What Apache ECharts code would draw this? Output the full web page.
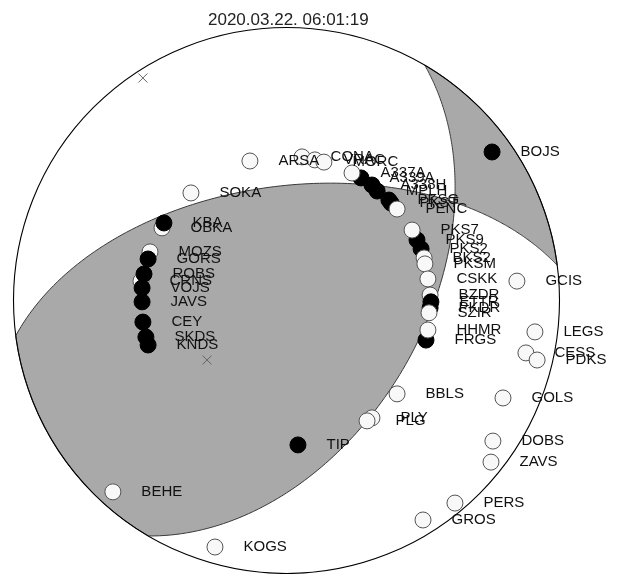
<!DOCTYPE html>
<html><head><meta charset="utf-8">
<script src="https://cdn.jsdelivr.net/npm/echarts@6/dist/echarts.min.js"></script>
<style>html,body{margin:0;padding:0;background:#fff}#c{width:622px;height:574px}</style>
</head><body><div id="c"></div>
<script>
const titleText = '2020.03.22. 06:01:19';
// nodal planes (strike, dip in degrees), lower hemisphere equal-area
const planeStrike = [262.6, 30.4];
const planeDip = [55.5, 49.0];
// stations: projected position on unit circle (east, north), polarity 1 = compression (filled)
const stationNames = ['ARSA','CONA','VRAC','MORC','A339A','A338H','MPLH','PKSG','PKST','A337A','PENC',
  'PKS9','PKS7','PKS2','BKS2','PKSM','CSKK','BZDR','ETTR','PKDR','SZIR','FRGS','HHMR',
  'SOKA','OBKA','KBA','MOZS','GORS','CRNS','ROBS','VOJS','JAVS','CEY','SKDS','KNDS',
  'BOJS','GCIS','LEGS','CESS','PDKS','GOLS','BBLS','PLY','PLG','TIP','DOBS','ZAVS','PERS','GROS','BEHE','KOGS'];
const stationX = [-0.134,0.057,0.104,0.137,0.273,0.313,0.332,0.375,0.383,0.240,0.405,
  0.478,0.460,0.493,0.504,0.507,0.518,0.526,0.529,0.526,0.522,0.511,0.518,
  -0.350,-0.456,-0.449,-0.500,-0.507,-0.533,-0.522,-0.529,-0.529,-0.526,-0.515,-0.507,
  0.753,0.844,0.910,0.877,0.918,0.793,0.405,0.313,0.295,0.042,0.756,0.749,0.617,0.500,-0.636,-0.262];
const stationY = [0.511,0.526,0.515,0.507,0.449,0.423,0.401,0.368,0.357,0.467,0.335,
  0.222,0.258,0.189,0.156,0.134,0.079,0.020,-0.005,-0.027,-0.045,-0.145,-0.108,
  0.394,0.266,0.284,0.178,0.152,0.071,0.097,0.046,-0.005,-0.079,-0.134,-0.163,
  0.544,0.071,-0.115,-0.192,-0.218,-0.357,-0.342,-0.430,-0.441,-0.529,-0.515,-0.592,-0.742,-0.804,-0.701,-0.903];
const stationPolarity = [0,0,0,0,1,1,1,1,1,0,0,
  1,0,1,0,0,0,0,1,1,0,1,0,
  0,0,1,0,1,0,1,1,1,1,1,1,
  1,0,0,0,0,0,0,0,0,1,0,0,0,0,0,0];
// P and T axes
const axisNames = ['P','T'];
const axisX = [-0.526,-0.291];
const axisY = [0.815,-0.218];

const D = Math.PI/180;
function planeVecs(strike, dip){
  const s=[Math.sin(strike*D),Math.cos(strike*D),0];
  const dd=(strike+90)*D;
  const d=[Math.cos(dip*D)*Math.sin(dd),Math.cos(dip*D)*Math.cos(dd),Math.sin(dip*D)];
  return {s,d};
}
function dot(a,b){return a[0]*b[0]+a[1]*b[1]+a[2]*b[2];}
function cross(a,b){return [a[1]*b[2]-a[2]*b[1],a[2]*b[0]-a[0]*b[2],a[0]*b[1]-a[1]*b[0]];}
function project(v){
  let e=v[0],n=v[1],z=v[2];
  if(z<0){e=-e;n=-n;z=-z;}
  const h=Math.hypot(e,n);
  if(h<1e-12) return [0,0];
  const pl=Math.atan2(z,h);
  const r=Math.SQRT2*Math.sin((Math.PI/2-pl)/2);
  return [r*e/h,r*n/h];
}
function planeArc(p,a0,a1){
  const pts=[];const n=90;
  for(let i=0;i<=n;i++){
    const a=(a0+(a1-a0)*i/n)*D;
    const v=[0,1,2].map(k=>Math.cos(a)*p.s[k]+Math.sin(a)*p.d[k]);
    pts.push(project(v));
  }
  return pts;
}
function circleArc(az0,az1){
  const pts=[];const n=60;
  for(let i=0;i<=n;i++){const az=(az0+(az1-az0)*i/n)*D;pts.push([Math.sin(az),Math.cos(az)]);}
  return pts;
}
const PA=planeVecs(planeStrike[0],planeDip[0]);
const PB=planeVecs(planeStrike[1],planeDip[1]);
let bAxis=cross(cross(PA.s,PA.d),cross(PB.s,PB.d));
if(bAxis[2]<0) bAxis=bAxis.map(x=>-x);
const aA=Math.atan2(dot(bAxis,PA.d),dot(bAxis,PA.s))/D;
const aB=Math.atan2(dot(bAxis,PB.d),dot(bAxis,PB.s))/D;
const lens=[].concat(planeArc(PA,0,aA),planeArc(PB,aB,180),circleArc(planeStrike[1]+180,planeStrike[0]));
const crescent=[].concat(planeArc(PB,0,aB),planeArc(PA,aA,180),circleArc(planeStrike[0]+180-360,planeStrike[1]));
const regions=[lens,crescent];

const stationData=stationNames.map((nm,i)=>({
  name:nm, value:[stationX[i],stationY[i]],
  itemStyle: stationPolarity[i] ? {color:'#000',borderColor:'#000',borderWidth:1,opacity:1}
                                 : {color:'#f8f8f8',borderColor:'#555',borderWidth:1,opacity:1}
}));

const chart=echarts.init(document.getElementById('c'),null,{renderer:'canvas'});
chart.setOption({
  animation:false,
  backgroundColor:'#fff',
  title:{text:titleText,left:203,top:7,textStyle:{fontSize:17,fontWeight:'normal',color:'#222',fontFamily:'Liberation Sans'}},
  grid:{left:13.5,top:27.5,width:546,height:546},
  xAxis:{type:'value',min:-1,max:1,show:false},
  yAxis:{type:'value',min:-1,max:1,show:false},
  series:[
    {type:'custom',z:1,silent:true,data:[[0,0]],clip:false,
      renderItem:function(params,api){
        const children=regions.map(poly=>({type:'polygon',shape:{points:poly.map(p=>api.coord(p))},
          style:{fill:'#a9a9a9',stroke:'#3a3a3a',lineWidth:1}}));
        const c=api.coord([0,0]);const r=api.size([1,1])[0];
        children.push({type:'circle',shape:{cx:c[0],cy:c[1],r:r},style:{fill:null,stroke:'#000',lineWidth:1.1}});
        return {type:'group',children};
      }},
    {type:'custom',z:2,silent:true,clip:false,
      data:axisNames.map((n,i)=>[axisX[i],axisY[i]]),
      renderItem:function(params,api){
        const c=api.coord([api.value(0),api.value(1)]);const h=4.5;
        return {type:'group',children:[
          {type:'line',shape:{x1:c[0]-h,y1:c[1]-h,x2:c[0]+h,y2:c[1]+h},style:{stroke:'#666',lineWidth:1}},
          {type:'line',shape:{x1:c[0]-h,y1:c[1]+h,x2:c[0]+h,y2:c[1]-h},style:{stroke:'#666',lineWidth:1}}]};
      }},
    {type:'scatter',z:3,symbol:'circle',symbolSize:16,data:stationData,
      itemStyle:{opacity:1},
      label:{show:true,formatter:'{b}',position:'right',distance:20,fontSize:15,color:'#111',fontFamily:'Liberation Sans'},
      labelLayout:{hideOverlap:false}}
  ]
});
</script></body></html>
